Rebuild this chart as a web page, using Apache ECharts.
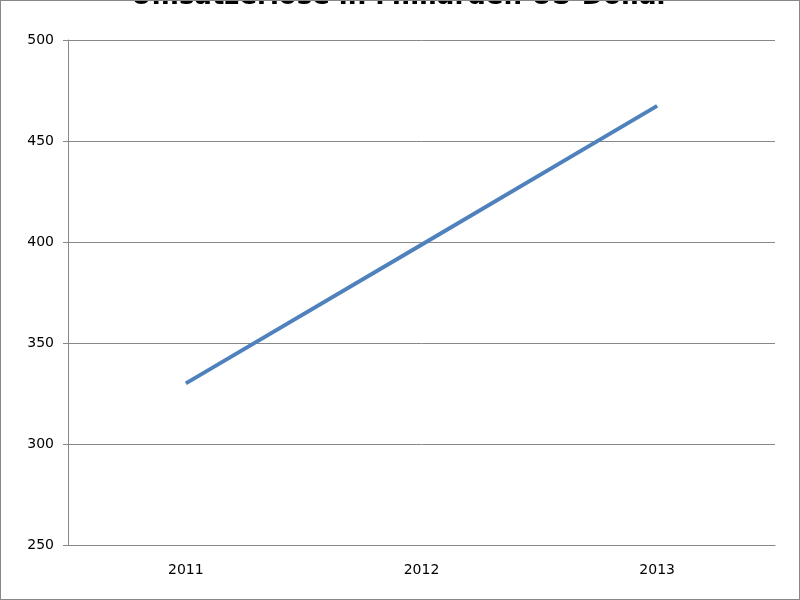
<!DOCTYPE html><html><head><meta charset="utf-8"><script src="https://cdn.jsdelivr.net/npm/echarts@6/dist/echarts.min.js"></script>
<style>body{margin:0}#c{width:800px;height:600px;box-sizing:border-box;border:1px solid #888}</style></head><body><div id="c"></div><script>
const title = 'Umsatzerlöse in Milliarden US-Dollar';
const categories = ['2011','2012','2013'];
const values = [330, 398.6, 467.4];
const chart = echarts.init(document.getElementById('c'));
chart.setOption({
  animation:false,
  title:{text:title,left:'center',top:-22,textStyle:{fontFamily:'DejaVu Sans',fontSize:26,fontWeight:'bold',color:'#000'}},
  grid:{left:67,right:24,top:39,bottom:54},
  xAxis:{type:'category',data:categories,boundaryGap:true,axisLine:{lineStyle:{color:'#888'}},axisTick:{show:false},
    axisLabel:{color:'#000',fontFamily:'DejaVu Sans',fontSize:14,margin:18}},
  yAxis:{type:'value',min:250,max:500,interval:50,axisLine:{show:true,lineStyle:{color:'#888'}},axisTick:{show:true,length:5,lineStyle:{color:'#888'}},
    splitLine:{lineStyle:{color:'#888'}},axisLabel:{color:'#000',fontFamily:'DejaVu Sans',fontSize:14,margin:14}},
  series:[{type:'line',data:values,symbol:'circle',symbolSize:1,showSymbol:true,itemStyle:{opacity:0},lineStyle:{color:'#4f81bd',width:4},
    label:{show:true,position:'right',distance:14,offset:[0,8],color:'#000',fontFamily:'DejaVu Sans',fontSize:15,fontWeight:'bold',
      formatter:p=>String(p.value).replace('.',',')}}]
});
</script></body></html>
